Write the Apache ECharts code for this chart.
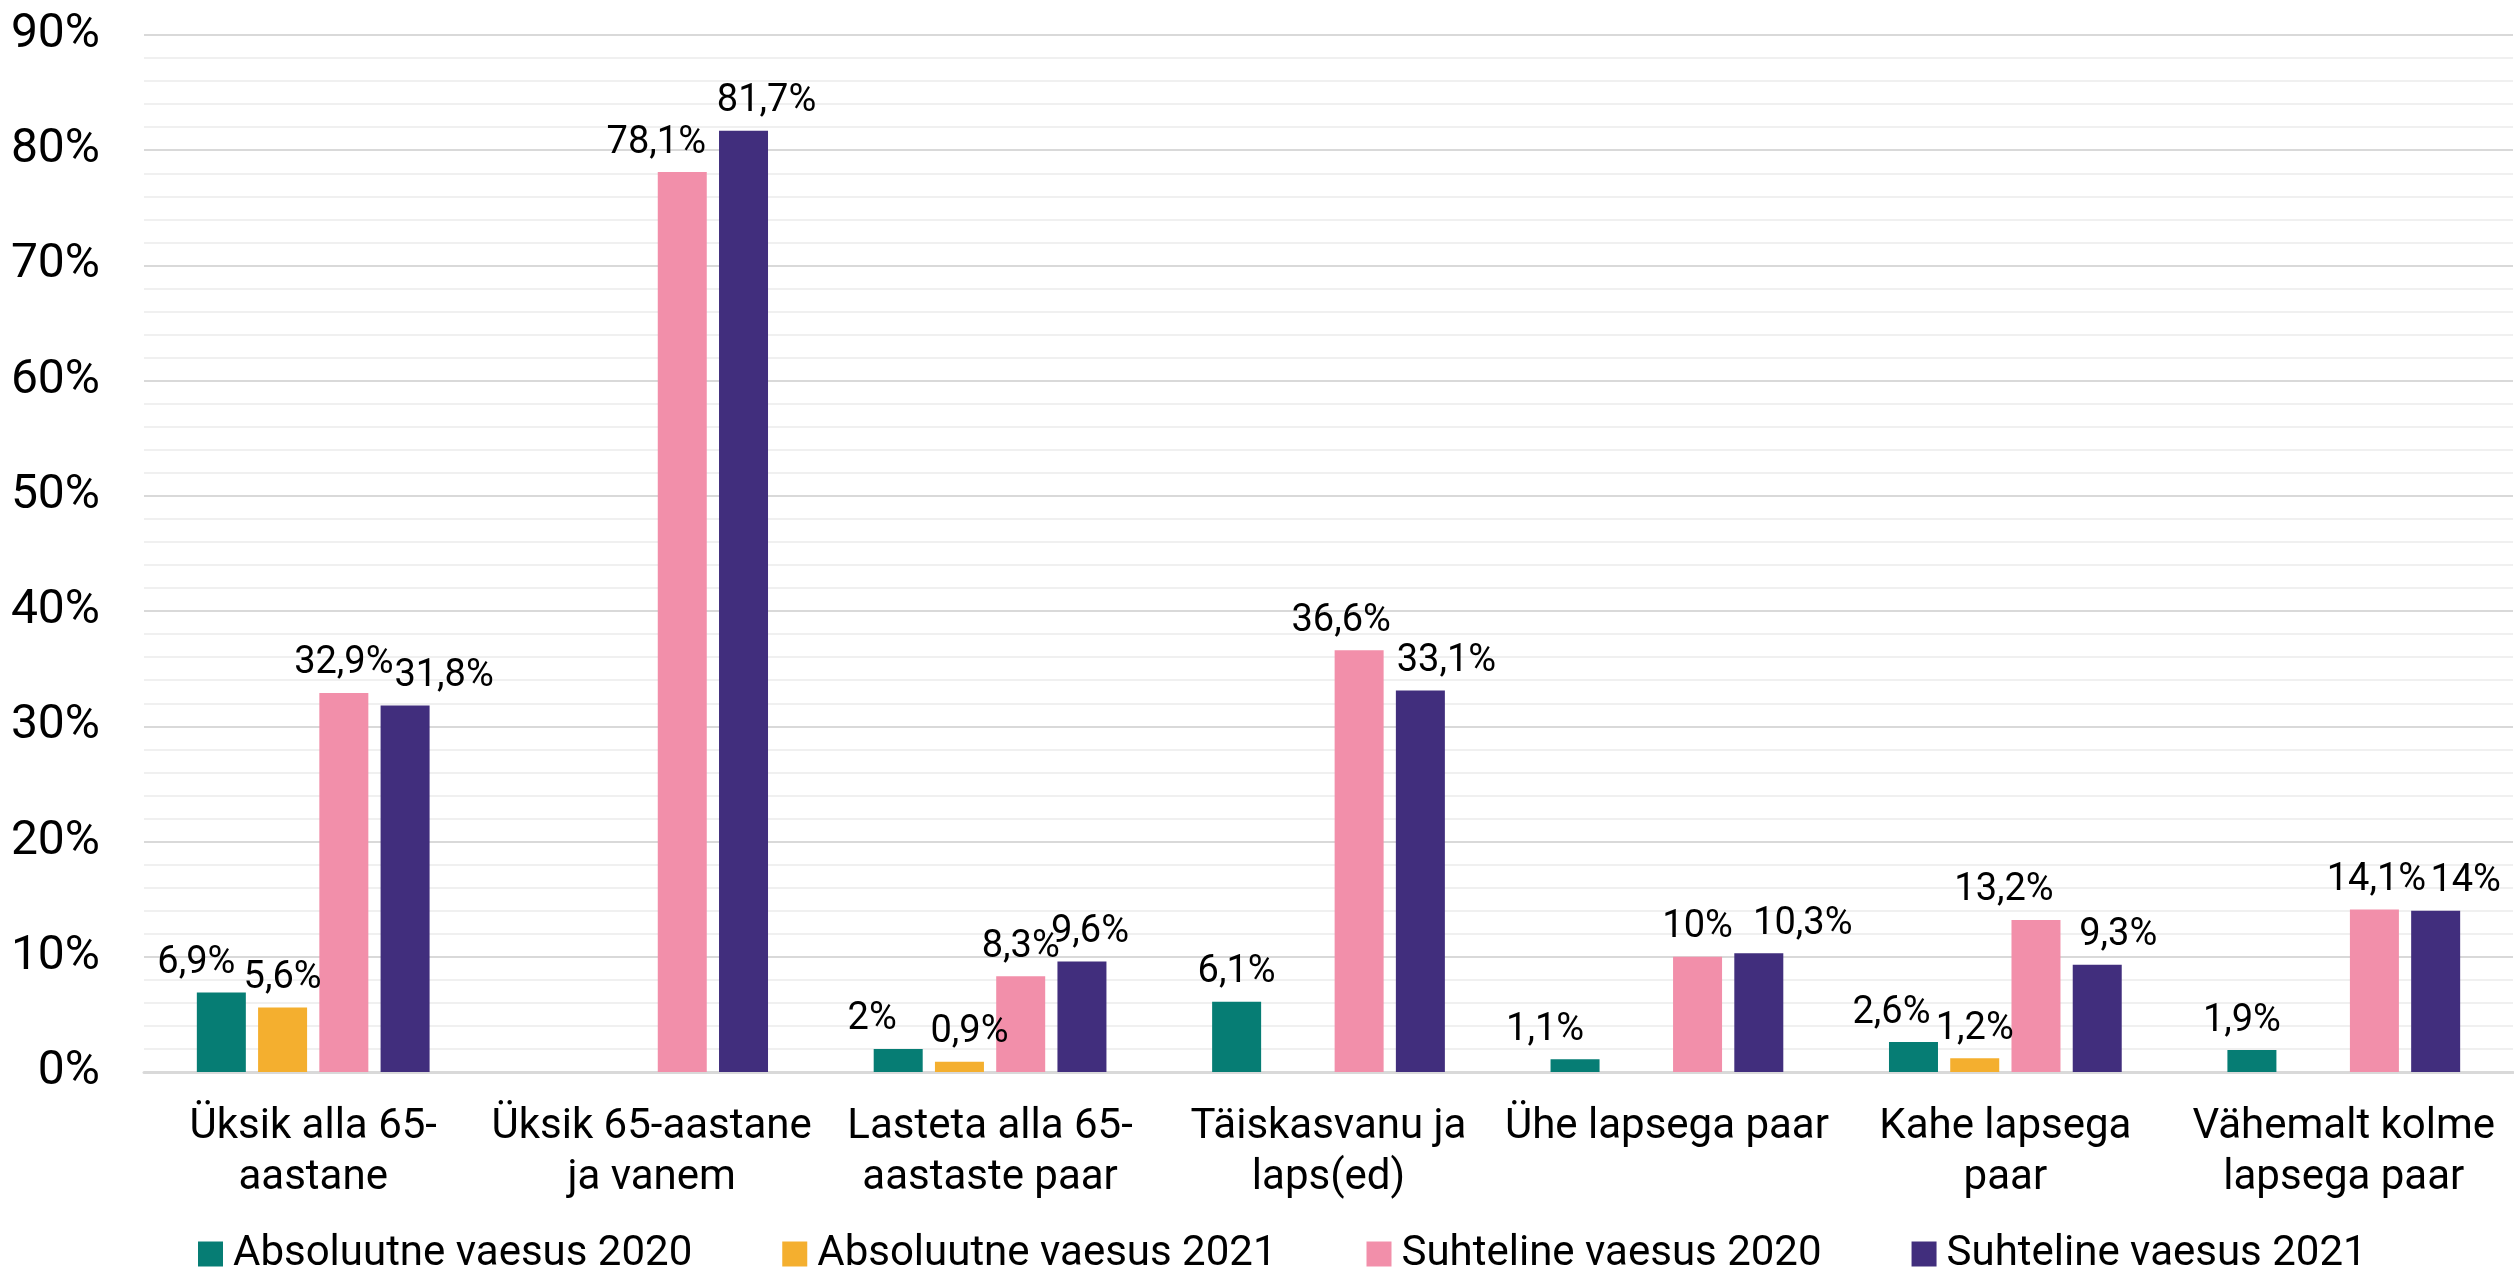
<!DOCTYPE html>
<html>
<head>
    <meta charset="utf-8">
    <script src="https://cdn.jsdelivr.net/npm/echarts@6/dist/echarts.min.js"></script>
    <style>
        html, body { margin: 0; padding: 0; background: #fff; }
    </style>
</head>
<body>
    <div id="main" style="width: 2514px;height:1270px;"></div>
    <script type="text/javascript">
        // andmed
        var categories = [
            'Üksik alla 65-\naastane',
            'Üksik 65-aastane\nja vanem',
            'Lasteta alla 65-\naastaste paar',
            'Täiskasvanu ja\nlaps(ed)',
            'Ühe lapsega paar',
            'Kahe lapsega\npaar',
            'Vähemalt kolme\nlapsega paar'
        ];
        var seriesNames = ['Absoluutne vaesus 2020', 'Absoluutne vaesus 2021', 'Suhteline vaesus 2020', 'Suhteline vaesus 2021'];
        var abs2020 = [6.9, null, 2, 6.1, 1.1, 2.6, 1.9];
        var abs2021 = [5.6, null, 0.9, null, null, 1.2, null];
        var rel2020 = [32.9, 78.1, 8.3, 36.6, 10, 13.2, 14.1];
        var rel2021 = [31.8, 81.7, 9.6, 33.1, 10.3, 9.3, 14];
        var yTicks = [0, 10, 20, 30, 40, 50, 60, 70, 80, 90];

        var colors = ['#067D74', '#F4AF2F', '#F28FAA', '#412E7D'];
        var font = 'Roboto';

        // siltide nihe x-suunas (et sildid ei kattuks, nagu Excelis)
        var labelShift = [
            [-25, 0, -26, 0, -30, -22, -10],
            [0, 0, 10, 0, 0, 0, 0],
            [0, -26, 0, -18, 0, -32, 2],
            [39, 23, 8, 26, 44, 21, 30]
        ];

        function pct(v) {
            return String(v).replace('.', ',') + '%';
        }

        function bar(idx, data) {
            return {
                name: seriesNames[idx],
                type: 'bar',
                data: data.map(function (v, i) {
                    return { value: v, label: { offset: [labelShift[idx][i], 0] } };
                }),
                barWidth: 49,
                barGap: '25%',
                itemStyle: { color: colors[idx] },
                label: {
                    show: true,
                    position: 'top',
                    distance: 10,
                    fontFamily: font,
                    fontSize: 38,
                    color: '#000',
                    formatter: function (p) { return pct(p.value); }
                }
            };
        }

        var myChart = echarts.init(document.getElementById('main'));
        myChart.setOption({
            animation: false,
            grid: { left: 144, right: 1, top: 35, bottom: 198 },
            legend: {
                data: seriesNames,
                top: 1228,
                left: 193,
                itemWidth: 25,
                itemHeight: 25,
                itemGap: 90,
                icon: 'rect',
                textStyle: { fontFamily: font, fontSize: 42, color: '#000', padding: [0, 0, 0, 5] }
            },
            xAxis: {
                type: 'category',
                data: categories,
                axisTick: { show: false },
                axisLine: { lineStyle: { color: '#d9d9d9', width: 3 } },
                axisLabel: {
                    interval: 0,
                    margin: 30,
                    fontFamily: font,
                    fontSize: 42,
                    lineHeight: 51,
                    color: '#000'
                }
            },
            yAxis: {
                type: 'value',
                min: yTicks[0],
                max: yTicks[yTicks.length - 1],
                interval: 10,
                axisLine: { show: false },
                axisTick: { show: false },
                axisLabel: {
                    margin: 44,
                    fontFamily: font,
                    fontSize: 48,
                    color: '#000',
                    formatter: function (v) { return v + '%'; }
                },
                splitLine: { lineStyle: { color: '#d9d9d9', width: 2 } },
                minorTick: { show: false, splitNumber: 5 },
                minorSplitLine: { show: true, lineStyle: { color: '#f0f0f0', width: 2 } }
            },
            series: [
                bar(0, abs2020),
                bar(1, abs2021),
                bar(2, rel2020),
                bar(3, rel2021)
            ]
        });
    </script>
</body>
</html>
